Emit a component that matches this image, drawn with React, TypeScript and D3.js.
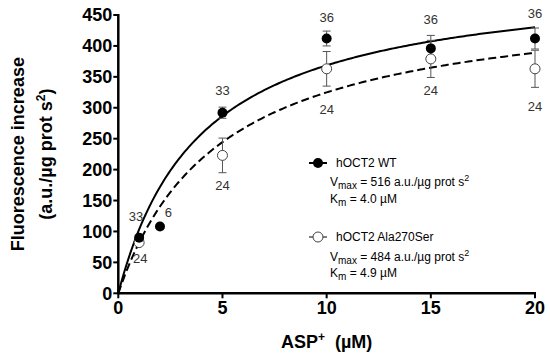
import React from "react";
import * as d3 from "d3";

const concentrations = [1, 2, 5, 10, 15, 20];
const wtMeans = [90, 108, 292, 412, 396, 412];
const wtErrors = [0, 0, 9, 12, 21, 17];
const mutConc = [1, 5, 10, 15, 20];
const mutMeans = [82, 223, 363, 379, 363];
const mutErrors = [0, 28, 28, 30, 30];

const wtVmax = 516;
const wtKm = 4.0;
const mutVmax = 484;
const mutKm = 4.9;

const xTicks = [0, 5, 10, 15, 20];
const yTicks = [0, 50, 100, 150, 200, 250, 300, 350, 400, 450];

const nLabels = [
  { x: 0.85, y: 125, t: "33" },
  { x: 2.4, y: 131, t: "6" },
  { x: 1.05, y: 56, t: "24" },
  { x: 5, y: 328, t: "33" },
  { x: 5, y: 175, t: "24" },
  { x: 10, y: 446, t: "36" },
  { x: 10, y: 298, t: "24" },
  { x: 15, y: 443, t: "36" },
  { x: 15, y: 328, t: "24" },
  { x: 20, y: 453, t: "36" },
  { x: 20, y: 302, t: "24" },
];

const W = 550;
const H = 355;
const left = 118.3;
const right = 535;
const top = 15;
const bottom = 293.3;

export default function App() {
  const x = d3.scaleLinear().domain([0, 20]).range([left, right]);
  const y = d3.scaleLinear().domain([0, 450]).range([bottom, top]);
  const mm = (v: number, k: number) => (c: number) => (v * c) / (k + c);
  const grid = d3.range(0, 20.001, 0.1);
  const line = d3
    .line<number>()
    .x((c) => x(c));
  const wtPath = line.y((c) => y(mm(wtVmax, wtKm)(c)))(grid) || "";
  const mutPath = line.y((c) => y(mm(mutVmax, mutKm)(c)))(grid) || "";

  const font = "'Liberation Sans', Arial, Helvetica, sans-serif";
  const errColor = "#555";

  const errBar = (cx: number, cy: number, e: number, key: string) =>
    e > 0 ? (
      <g key={key} stroke={errColor} strokeWidth={1}>
        <line x1={x(cx)} x2={x(cx)} y1={y(cy - e)} y2={y(cy + e)} />
        <line x1={x(cx) - 4} x2={x(cx) + 4} y1={y(cy - e)} y2={y(cy - e)} />
        <line x1={x(cx) - 4} x2={x(cx) + 4} y1={y(cy + e)} y2={y(cy + e)} />
      </g>
    ) : null;

  return (
    <svg
      width={W}
      height={H}
      style={{ position: "absolute", left: 0, top: 0, background: "#fff" }}
      fontFamily={font}
    >
      <rect width={W} height={H} fill="#fff" />
      {/* curves */}
      <path d={wtPath} fill="none" stroke="#000" strokeWidth={2} />
      <path d={mutPath} fill="none" stroke="#000" strokeWidth={2} strokeDasharray="8,4" />

      {/* error bars */}
      {mutConc.map((c, i) => errBar(c, mutMeans[i], mutErrors[i], "me" + i))}
      {concentrations.map((c, i) => errBar(c, wtMeans[i], wtErrors[i], "we" + i))}

      {/* points */}
      {mutConc.map((c, i) => (
        <circle key={"m" + i} cx={x(c)} cy={y(mutMeans[i])} r={5} fill="#fff" stroke="#444" strokeWidth={1} />
      ))}
      {concentrations.map((c, i) => (
        <circle key={"w" + i} cx={x(c)} cy={y(wtMeans[i])} r={5} fill="#000" />
      ))}

      {/* n labels */}
      {nLabels.map((l, i) => (
        <text key={"n" + i} x={x(l.x)} y={y(l.y)} dy="0.35em" textAnchor="middle" fontSize={13} fill="#333">
          {l.t}
        </text>
      ))}

      {/* axes */}
      <line x1={left} x2={right + 1} y1={bottom} y2={bottom} stroke="#000" strokeWidth={2.5} />
      <line x1={left} x2={left} y1={top - 1} y2={bottom + 1} stroke="#000" strokeWidth={2.5} />
      {xTicks.map((t) => (
        <g key={"xt" + t}>
          <line x1={x(t)} x2={x(t)} y1={bottom} y2={bottom + 5} stroke="#000" strokeWidth={2} />
          <text x={x(t)} y={bottom + 21} textAnchor="middle" fontSize={18} fontWeight="bold">
            {t}
          </text>
        </g>
      ))}
      {yTicks.map((t) => (
        <g key={"yt" + t}>
          <line x1={left - 5} x2={left} y1={y(t)} y2={y(t)} stroke="#000" strokeWidth={2} />
          <text x={left - 6} y={y(t)} dy="0.36em" textAnchor="end" fontSize={18} fontWeight="bold">
            {t}
          </text>
        </g>
      ))}

      {/* axis titles */}
      <text x={(left + right) / 2} y={348} textAnchor="middle" fontSize={18} fontWeight="bold">
        ASP<tspan dy="-7" fontSize={12}>+</tspan>
        <tspan dy="7">{"\u00a0\u00a0(µM)"}</tspan>
      </text>
      <g transform={`translate(24, ${(top + bottom) / 2}) rotate(-90)`}>
        <text x={0} y={0} textAnchor="middle" fontSize={18} fontWeight="bold">
          Fluorescence increase
        </text>
        <text x={0} y={28} textAnchor="middle" fontSize={18} fontWeight="bold">
          (a.u./µg prot s<tspan dy="-7" fontSize={12}>2</tspan>
          <tspan dy="7">)</tspan>
        </text>
      </g>

      {/* legend */}
      <g fontSize={12} fill="#000">
        <line x1={309} x2={327} y1={163} y2={163} stroke="#000" strokeWidth={2} />
        <circle cx={318} cy={163} r={5} fill="#000" />
        <text x={336} y={167}>hOCT2 WT</text>
        <text x={330} y={186}>
          V<tspan dy="3" fontSize={10}>max</tspan>
          <tspan dy="-3">{" = 516 a.u./µg prot s"}</tspan>
          <tspan dy="-5" fontSize={9}>2</tspan>
        </text>
        <text x={330} y={203}>
          K<tspan dy="3" fontSize={10}>m</tspan>
          <tspan dy="-3">{" = 4.0 µM"}</tspan>
        </text>

        <line x1={309} x2={327} y1={237} y2={237} stroke="#000" strokeWidth={1} />
        <circle cx={318} cy={237} r={5} fill="#fff" stroke="#444" strokeWidth={1} />
        <text x={336} y={241}>hOCT2 Ala270Ser</text>
        <text x={330} y={261}>
          V<tspan dy="3" fontSize={10}>max</tspan>
          <tspan dy="-3">{" = 484 a.u./µg prot s"}</tspan>
          <tspan dy="-5" fontSize={9}>2</tspan>
        </text>
        <text x={330} y={277}>
          K<tspan dy="3" fontSize={10}>m</tspan>
          <tspan dy="-3">{" = 4.9 µM"}</tspan>
        </text>
      </g>
    </svg>
  );
}
